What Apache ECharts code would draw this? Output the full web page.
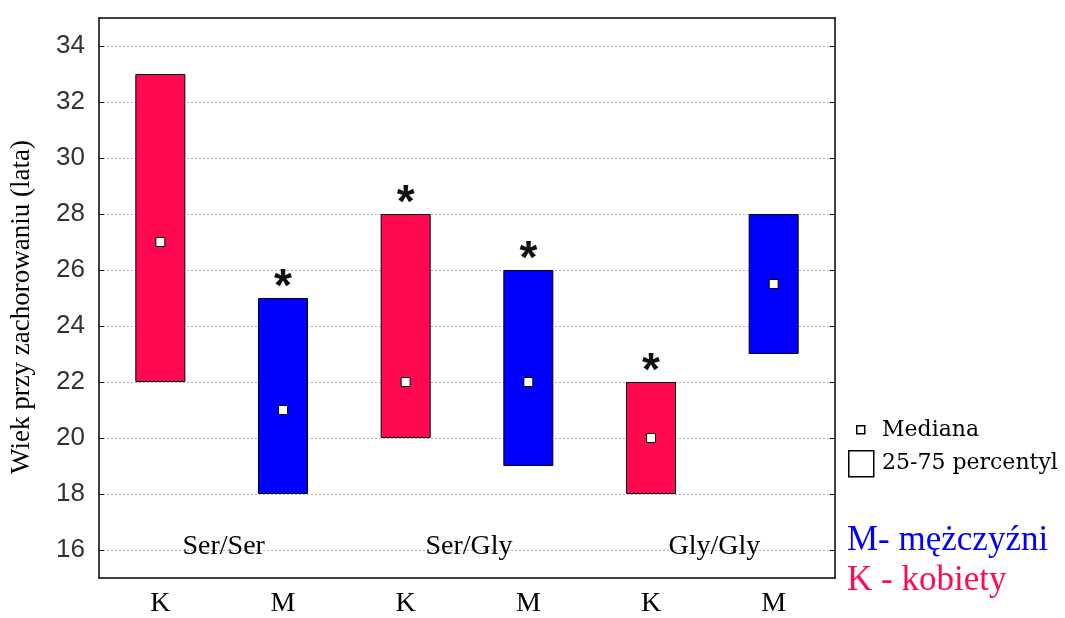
<!DOCTYPE html>
<html>
<head>
<meta charset="UTF-8">
<title>Wiek przy zachorowaniu</title>
<script src="https://cdn.jsdelivr.net/npm/echarts@6/dist/echarts.min.js"></script>
<style>
  body { margin: 0; background: #fff; }
  #chart { width: 1065px; height: 618px; }
</style>
</head>
<body>
<div id="chart"></div>
<script>
// dane
var categories = ['K', 'M', 'K', 'M', 'K', 'M'];
var q25 = [22, 18, 20, 19, 18, 23];
var q75 = [33, 25, 28, 26, 22, 28];
var medians = [27, 21, 22, 22, 20, 25.5];
var significant = [false, true, true, true, true, false];
var yTicks = [16, 18, 20, 22, 24, 26, 28, 30, 32, 34];
var groups = ['Ser/Ser', 'Ser/Gly', 'Gly/Gly'];
var groupPos = [1, 3, 5];   // srodek pary K/M na osi 0..6
var groupY = 16;

var RED = '#ff0a50';
var BLUE = '#0000ff';
var serif = '"Liberation Serif", "Times New Roman", serif';
var wideSerif = '"DejaVu Serif", serif';
var sans = '"Liberation Sans", Arial, sans-serif';

var chart = echarts.init(document.getElementById('chart'));

var rangeData = categories.map(function (c, i) {
    return {
        value: q75[i] - q25[i],
        itemStyle: { color: c === 'K' ? RED : BLUE },
        label: { show: significant[i] }
    };
});

var option = {
    animation: false,
    grid: { left: 99, top: 18, right: 230, bottom: 40, outerBoundsMode: 'none' },
    xAxis: [{
        type: 'category',
        data: categories,
        boundaryGap: true,
        axisLine: { lineStyle: { color: '#000', width: 1.5 } },
        axisTick: { inside: true, alignWithLabel: true, length: 5, lineStyle: { color: '#000' } },
        axisLabel: { color: '#000', fontFamily: serif, fontSize: 28, margin: 12 }
    }, {
        type: 'category',
        data: categories,
        position: 'top',
        axisLine: { lineStyle: { color: '#000', width: 1.5 } },
        axisTick: { inside: true, alignWithLabel: true, length: 5, lineStyle: { color: '#000' } },
        axisLabel: { show: false }
    }, {
        type: 'value',
        min: 0,
        max: 6,
        show: false
    }],
    yAxis: [{
        type: 'value',
        min: 15,
        max: 35,
        name: 'Wiek przy zachorowaniu (lata)',
        nameLocation: 'middle',
        nameGap: 64,
        nameTextStyle: { fontFamily: serif, fontSize: 27, color: '#000', padding: [0, 18, 0, 0] },
        axisLine: { show: true, lineStyle: { color: '#000', width: 1.5 } },
        axisTick: { show: true, inside: true, length: 5, customValues: yTicks, lineStyle: { color: '#000' } },
        axisLabel: { customValues: yTicks, color: '#333', fontFamily: sans, fontSize: 26, margin: 14 },
        splitLine: { show: false }
    }, {
        type: 'value',
        min: 15,
        max: 35,
        position: 'right',
        axisLine: { show: true, lineStyle: { color: '#000', width: 1.5 } },
        axisTick: { show: true, inside: true, length: 5, customValues: yTicks, lineStyle: { color: '#000' } },
        axisLabel: { show: false },
        splitLine: { show: false }
    }],
    series: [{
        name: 'base',
        type: 'bar',
        stack: 'box',
        barWidth: 50,
        z: 1,
        itemStyle: { color: 'transparent' },
        data: q25,
        markLine: {
            silent: true,
            z: 0,
            symbol: 'none',
            label: { show: false },
            lineStyle: { color: '#b4b4b4', type: [2, 2], width: 1 },
            data: yTicks.map(function (v) { return { yAxis: v }; })
        }
    }, {
        name: '25-75 percentyl',
        type: 'bar',
        stack: 'box',
        barWidth: 50,
        z: 3,
        itemStyle: { borderColor: '#000', borderWidth: 1 },
        label: {
            position: 'top',
            distance: -13,
            formatter: '*',
            color: '#111',
            fontFamily: sans,
            fontWeight: 'bold',
            fontSize: 46
        },
        data: rangeData
    }, {
        name: 'Mediana',
        type: 'scatter',
        symbol: 'rect',
        symbolSize: 9,
        z: 5,
        itemStyle: { color: '#fff', borderColor: '#000', borderWidth: 1, opacity: 1 },
        data: medians
    }, {
        name: 'grupy',
        type: 'scatter',
        xAxisIndex: 2,
        symbolSize: 0,
        silent: true,
        itemStyle: { opacity: 1 },
        label: {
            show: true,
            position: 'inside',
            offset: [2, -3],
            color: '#000',
            opacity: 1,
            fontFamily: serif,
            fontSize: 28,
            formatter: function (p) { return groups[p.dataIndex]; }
        },
        data: groupPos.map(function (x) { return [x, groupY]; })
    }],
    graphic: [
        { type: 'rect', left: 856, top: 425, shape: { width: 8, height: 8 }, style: { fill: '#fff', stroke: '#000', lineWidth: 1.5 } },
        { type: 'text', x: 882, y: 430, style: { text: 'Mediana', fill: '#000', font: '22px ' + wideSerif, verticalAlign: 'middle' } },
        { type: 'rect', left: 848, top: 450, shape: { width: 25, height: 26 }, style: { fill: '#fff', stroke: '#000', lineWidth: 1.5 } },
        { type: 'text', x: 882, y: 463, style: { text: '25-75 percentyl', fill: '#000', font: '22px ' + wideSerif, verticalAlign: 'middle' } },
        { type: 'text', x: 847, y: 541, style: { text: 'M- mężczyźni', fill: BLUE, font: '35px ' + serif, verticalAlign: 'middle' } },
        { type: 'text', x: 847, y: 581, style: { text: 'K - kobiety', fill: RED, font: '35px ' + serif, verticalAlign: 'middle' } }
    ]
};

chart.setOption(option);
</script>
</body>
</html>
